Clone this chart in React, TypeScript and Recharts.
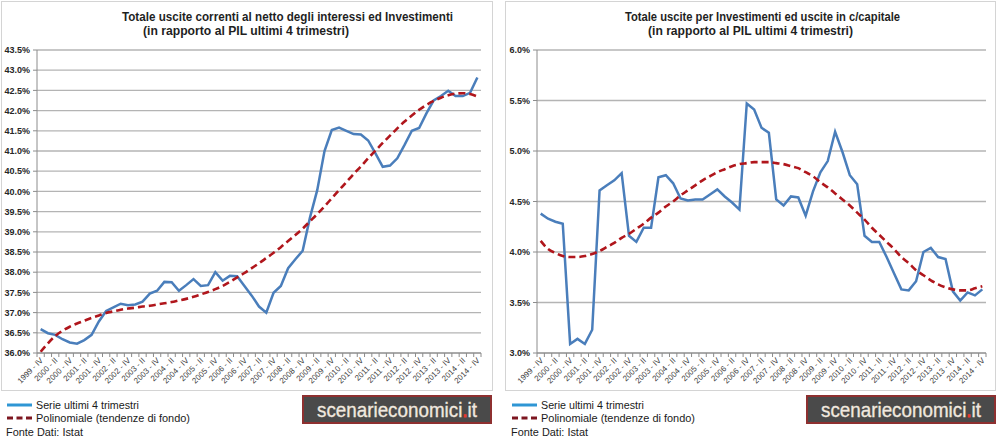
import { LineChart, Line, XAxis, YAxis, CartesianGrid } from 'recharts';

const trimestri = [
  '1999 - IV',
  '2000 - I', '2000 - II', '2000 - III', '2000 - IV',
  '2001 - I', '2001 - II', '2001 - III', '2001 - IV',
  '2002 - I', '2002 - II', '2002 - III', '2002 - IV',
  '2003 - I', '2003 - II', '2003 - III', '2003 - IV',
  '2004 - I', '2004 - II', '2004 - III', '2004 - IV',
  '2005 - I', '2005 - II', '2005 - III', '2005 - IV',
  '2006 - I', '2006 - II', '2006 - III', '2006 - IV',
  '2007 - I', '2007 - II', '2007 - III', '2007 - IV',
  '2008 - I', '2008 - II', '2008 - III', '2008 - IV',
  '2009 - I', '2009 - II', '2009 - III', '2009 - IV',
  '2010 - I', '2010 - II', '2010 - III', '2010 - IV',
  '2011 - I', '2011 - II', '2011 - III', '2011 - IV',
  '2012 - I', '2012 - II', '2012 - III', '2012 - IV',
  '2013 - I', '2013 - II', '2013 - III', '2013 - IV',
  '2014 - I', '2014 - II', '2014 - III', '2014 - IV',
];

// uscite correnti al netto degli interessi (% PIL)
const usciteCorrenti = [
  36.59, 36.49, 36.45, 36.34, 36.26, 36.23, 36.32, 36.45, 36.78, 37.04,
  37.13, 37.22, 37.18, 37.2, 37.27, 37.47, 37.54, 37.76, 37.75, 37.54,
  37.68, 37.83, 37.66, 37.68, 38.0, 37.79, 37.91, 37.9, 37.66, 37.42,
  37.15, 37.0, 37.49, 37.66, 38.1, 38.32, 38.53, 39.35, 40.03, 41.0,
  41.52, 41.58, 41.5, 41.42, 41.41, 41.26, 40.94, 40.61, 40.64, 40.82,
  41.15, 41.5, 41.57, 41.93, 42.25, 42.36, 42.49, 42.36, 42.36, 42.44,
  42.82,
];

const trendCorrenti = [
  36.03, 36.24, 36.42, 36.55, 36.65, 36.73, 36.8, 36.87, 36.93, 36.99,
  37.03, 37.07, 37.1, 37.12, 37.15, 37.17, 37.2, 37.23, 37.26, 37.3,
  37.34, 37.39, 37.45, 37.51, 37.58, 37.66, 37.76, 37.87, 37.98, 38.1,
  38.22, 38.35, 38.48, 38.62, 38.77, 38.92, 39.08, 39.26, 39.44, 39.63,
  39.83, 40.03, 40.23, 40.43, 40.62, 40.82, 41.01, 41.2, 41.38, 41.56,
  41.73, 41.88, 42.02, 42.14, 42.24, 42.32, 42.38, 42.42, 42.43, 42.41,
  42.35,
];

// uscite per investimenti ed in c/capitale (% PIL)
const usciteInvestimenti = [
  4.38, 4.33, 4.3, 4.28, 3.09, 3.14, 3.09, 3.23, 4.61, 4.66,
  4.71, 4.78, 4.16, 4.1, 4.24, 4.24, 4.74, 4.76, 4.68, 4.53,
  4.51, 4.52, 4.52, 4.57, 4.62, 4.55, 4.49, 4.42, 5.47, 5.41,
  5.23, 5.18, 4.52, 4.46, 4.55, 4.54, 4.36, 4.6, 4.79, 4.9,
  5.19, 4.99, 4.76, 4.67, 4.16, 4.1, 4.1, 3.95, 3.79, 3.63,
  3.62, 3.71, 4.0, 4.04, 3.95, 3.93, 3.61, 3.52, 3.6, 3.57,
  3.63,
];

const trendInvestimenti = [
  4.11, 4.03, 3.99, 3.96, 3.95, 3.95, 3.96, 3.98, 4.01, 4.05,
  4.09, 4.14, 4.18, 4.23, 4.28, 4.34, 4.39, 4.45, 4.5, 4.56,
  4.61, 4.66, 4.71, 4.75, 4.79, 4.82, 4.85, 4.87, 4.88, 4.89,
  4.89, 4.89, 4.88, 4.87, 4.85, 4.83, 4.79, 4.75, 4.69, 4.64,
  4.58, 4.52, 4.46, 4.39, 4.32, 4.24, 4.17, 4.1, 4.03, 3.95,
  3.89, 3.82, 3.77, 3.72, 3.68, 3.65, 3.63, 3.62, 3.62, 3.64,
  3.66,
];

const ticksCorrenti = [36, 36.5, 37, 37.5, 38, 38.5, 39, 39.5, 40, 40.5, 41, 41.5, 42, 42.5, 43, 43.5];
const ticksInvestimenti = [3, 3.5, 4, 4.5, 5, 5.5, 6];

const datiCorrenti = trimestri.map((q, i) => ({ q, serie: usciteCorrenti[i], trend: trendCorrenti[i] }));
const datiInvestimenti = trimestri.map((q, i) => ({ q, serie: usciteInvestimenti[i], trend: trendInvestimenti[i] }));

const FONT = '"Liberation Sans", Arial, sans-serif';
const BLUE = '#4a7ebb';
const RED = '#b0161c';

function QuarterTick(props: any) {
  const { x, y, payload, step } = props;
  const idx = props.index ?? payload.index;
  const bx = x - step / 2;
  return (
    <g>
      <line x1={bx} x2={bx} y1={y} y2={y + 4} stroke="#8c8c8c" />
      {idx === trimestri.length - 1 && <line x1={x + step / 2} x2={x + step / 2} y1={y} y2={y + 4} stroke="#8c8c8c" />}
      {idx % 2 === 0 && (
        <text
          x={x + 1}
          y={y + 6}
          dy="0.35em"
          transform={`rotate(-45 ${x + 1} ${y + 6})`}
          textAnchor="end"
          fontSize={8}
          fontFamily={FONT}
          fill="#404040"
        >
          {payload.value}
        </text>
      )}
    </g>
  );
}

function Panel({ data, ticks, domain, width, yWidth, rightMargin, step }: any) {
  return (
    <LineChart width={width} height={390} data={data} margin={{ top: 50, right: rightMargin, left: 0, bottom: 0 }}>
      <CartesianGrid vertical={false} stroke="#b4b4b4" strokeWidth={1.3} />
      <XAxis
        dataKey="q"
        interval={0}
        height={37}
        padding={{ left: step / 2, right: step / 2 }}
        axisLine={{ stroke: '#8c8c8c' }}
        tickLine={false}
        tickSize={0}
        tickMargin={0}
        tick={(p: any) => <QuarterTick {...p} step={step} />}
      />
      <YAxis
        width={yWidth}
        domain={domain}
        ticks={ticks}
        interval={0}
        allowDataOverflow
        axisLine={{ stroke: '#8c8c8c' }}
        tickLine={{ stroke: '#8c8c8c' }}
        tickSize={4}
        tickMargin={3}
        tick={{ fontSize: 9, fontWeight: 700, fill: '#262626', fontFamily: FONT }}
        tickFormatter={(v: number) => `${v.toFixed(1)}%`}
      />
      <Line type="linear" dataKey="serie" stroke={BLUE} strokeWidth={2.5} dot={false} isAnimationActive={false} />
      <Line type="monotone" dataKey="trend" stroke={RED} strokeWidth={2.6} strokeDasharray="7 4" dot={false} isAnimationActive={false} />
    </LineChart>
  );
}

function Legend({ x }: { x: number }) {
  return (
    <g fontFamily={FONT} fill="#1a1a1a">
      <line x1={x + 7} x2={x + 32} y1={405} y2={405} stroke="#2f96d4" strokeWidth={3} />
      <text x={x + 36} y={409} fontSize={11} textLength={103} lengthAdjust="spacingAndGlyphs">Serie ultimi 4 trimestri</text>
      <line x1={x + 7} x2={x + 32} y1={418} y2={418} stroke="#7d1620" strokeWidth={3} strokeDasharray="6 3.5" />
      <text x={x + 36} y={422} fontSize={11} textLength={154} lengthAdjust="spacingAndGlyphs">Polinomiale (tendenze di fondo)</text>
      <text x={x + 6} y={436} fontSize={11} textLength={77} lengthAdjust="spacingAndGlyphs">Fonte Dati: Istat</text>
    </g>
  );
}

function Logo({ x }: { x: number }) {
  return (
    <g>
      <rect x={x} y={396} width={188} height={27} fill="#4a4a4a" stroke="#8e3030" strokeWidth={2} />
      <text
        x={x + 14}
        y={416.5}
        fontSize={21}
        fontFamily={FONT}
        fill="#f0e8df"
        stroke="#f0e8df"
        strokeWidth={0.35}
        textLength={160}
        lengthAdjust="spacingAndGlyphs"
      >
        scenarieconomici<tspan fill="#e8382e" stroke="#e8382e" strokeWidth={1}>.</tspan>it
      </text>
    </g>
  );
}

export default function App() {
  return (
    <div style={{ position: 'absolute', left: 0, top: 0, width: 1000, height: 439, background: '#fff', overflow: 'hidden' }}>
      <div style={{ position: 'absolute', left: 1, top: 0 }}>
        <Panel data={datiCorrenti} ticks={ticksCorrenti} domain={[36, 43.5]} width={491} yWidth={36} rightMargin={11} step={444 / 61} />
      </div>
      <div style={{ position: 'absolute', left: 505, top: 0 }}>
        <Panel data={datiInvestimenti} ticks={ticksInvestimenti} domain={[3, 6]} width={490} yWidth={32} rightMargin={9} step={449 / 61} />
      </div>
      <svg width={1000} height={439} style={{ position: 'absolute', left: 0, top: 0, pointerEvents: 'none' }}>
        <rect x={1.5} y={1.5} width={491} height={389} fill="none" stroke="#d4d4d4" />
        <rect x={505.5} y={1.5} width={490} height={389} fill="none" stroke="#d4d4d4" />
        <g fontFamily={FONT} fontWeight={700} fontSize={13} fill="#1f1f1f">
          <text x={122} y={21} textLength={331} lengthAdjust="spacingAndGlyphs">Totale uscite correnti al netto degli interessi ed Investimenti</text>
          <text x={143} y={35} textLength={206} lengthAdjust="spacingAndGlyphs">(in rapporto al PIL ultimi 4 trimestri)</text>
          <text x={625} y={21} textLength={275} lengthAdjust="spacingAndGlyphs">Totale uscite per Investimenti ed uscite in c/capitale</text>
          <text x={648} y={35} textLength={205} lengthAdjust="spacingAndGlyphs">(in rapporto al PIL ultimi 4 trimestri)</text>
        </g>
        <Legend x={0} />
        <Legend x={505} />
        <Logo x={303} />
        <Logo x={807} />
      </svg>
    </div>
  );
}
